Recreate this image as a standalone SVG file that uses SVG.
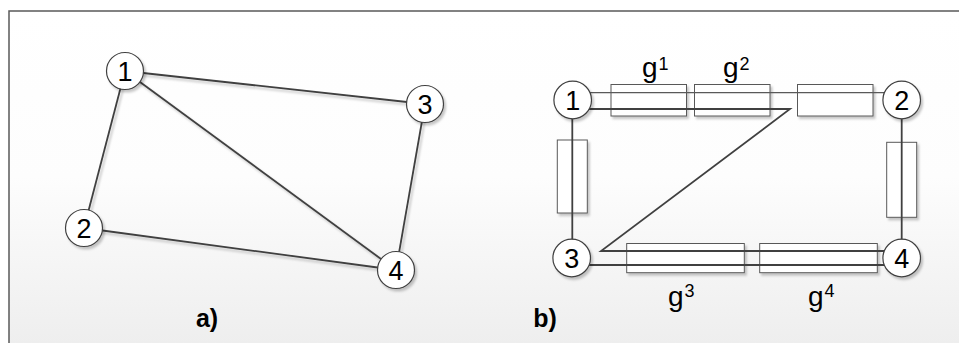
<svg xmlns="http://www.w3.org/2000/svg" width="959" height="343" viewBox="0 0 959 343">
<defs>
<linearGradient id="bg" x1="0" y1="11" x2="0" y2="343" gradientUnits="userSpaceOnUse">
<stop offset="0" stop-color="#ffffff"/>
<stop offset="0.5" stop-color="#fdfdfd"/>
<stop offset="1" stop-color="#eeeeee"/>
</linearGradient>
<filter id="sh" x="-20%" y="-20%" width="150%" height="150%">
<feDropShadow dx="2" dy="2.5" stdDeviation="1.2" flood-color="#000" flood-opacity="0.22"/>
</filter>
</defs>
<style>
.node circle{fill:#fff;stroke:#404040;stroke-width:1.2}
.node text{font-family:"Liberation Sans",Arial,sans-serif;font-size:27px;fill:#000;text-anchor:middle}
.edge{fill:none;stroke:#404040;stroke-width:1.8}
.thin{fill:none;stroke:#595959;stroke-width:1.2}
.res{fill:#fff;stroke:#595959;stroke-width:1}
.lbl{font-family:"Liberation Sans",Arial,sans-serif;font-size:25px;font-weight:bold;fill:#000;text-anchor:middle}
.g{font-family:"Liberation Sans",Arial,sans-serif;font-size:28px;fill:#000}
.sup{font-size:18px}
</style>
<rect x="9" y="11" width="960" height="340" fill="url(#bg)" stroke="#595959" stroke-width="1.5"/>

<!-- panel a connectors -->
<g id="connectors-a" filter="url(#sh)">
<line class="edge" x1="125" y1="71" x2="425" y2="104"/>
<line class="edge" x1="125" y1="71" x2="84" y2="228"/>
<line class="edge" x1="125" y1="71" x2="396" y2="270"/>
<line class="edge" x1="84" y1="228" x2="396" y2="270"/>
<line class="edge" x1="425" y1="104" x2="396" y2="270"/>
</g>

<g id="a-node1" class="node"><circle cx="125" cy="71" r="18.5" filter="url(#sh)"/><text x="125" y="80.5">1</text></g>
<g id="a-node2" class="node"><circle cx="84" cy="228" r="18.5" filter="url(#sh)"/><text x="84" y="237.5">2</text></g>
<g id="a-node3" class="node"><circle cx="425" cy="104" r="18.5" filter="url(#sh)"/><text x="425" y="113.5">3</text></g>
<g id="a-node4" class="node"><circle cx="396" cy="270" r="18.5" filter="url(#sh)"/><text x="396" y="279.5">4</text></g>

<text class="lbl" x="207" y="327">a)</text>

<!-- panel b elements (resistors) -->
<g id="b-elements" filter="url(#sh)">
<rect class="res" x="611" y="84.5" width="75.5" height="31.5"/>
<rect class="res" x="694.5" y="84.5" width="75.5" height="31.5"/>
<rect class="res" x="797.5" y="84.5" width="75.5" height="31.5"/>
<rect class="res" x="626.7" y="243.5" width="117.6" height="29.2"/>
<rect class="res" x="759.7" y="243.5" width="117.6" height="29.2"/>
<rect class="res" x="557.3" y="140" width="30" height="73"/>
<rect class="res" x="886.7" y="142.3" width="30" height="75"/>
</g>

<!-- panel b connectors -->
<g id="connectors-b">
<path class="thin" d="M572.7,92.7 H901.7"/>
<path class="edge" d="M572.7,109 H790 L601,251 H901.7"/>
<path class="edge" d="M571.7,265 H901.7"/>
<path class="edge" d="M572.3,100 V258"/>
<path class="edge" d="M901.7,100 V258"/>
</g>

<g id="b-node1" class="node"><circle cx="572.7" cy="100" r="18.8" filter="url(#sh)"/><text x="572.7" y="109.5">1</text></g>
<g id="b-node2" class="node"><circle cx="901.7" cy="100" r="18.8" filter="url(#sh)"/><text x="901.7" y="109.5">2</text></g>
<g id="b-node3" class="node"><circle cx="571.7" cy="258" r="18.8" filter="url(#sh)"/><text x="571.7" y="267.5">3</text></g>
<g id="b-node4" class="node"><circle cx="901.7" cy="258" r="18.8" filter="url(#sh)"/><text x="901.7" y="267.5">4</text></g>

<text class="g"><tspan x="642" y="76.5">g</tspan><tspan class="sup" x="658.5" y="70">1</tspan></text>
<text class="g"><tspan x="723" y="76.5">g</tspan><tspan class="sup" x="739.5" y="70">2</tspan></text>
<text class="g"><tspan x="668" y="306">g</tspan><tspan class="sup" x="684.5" y="296.7">3</tspan></text>
<text class="g"><tspan x="808" y="306">g</tspan><tspan class="sup" x="824.5" y="296.7">4</tspan></text>

<text class="lbl" x="545" y="327">b)</text>
</svg>
